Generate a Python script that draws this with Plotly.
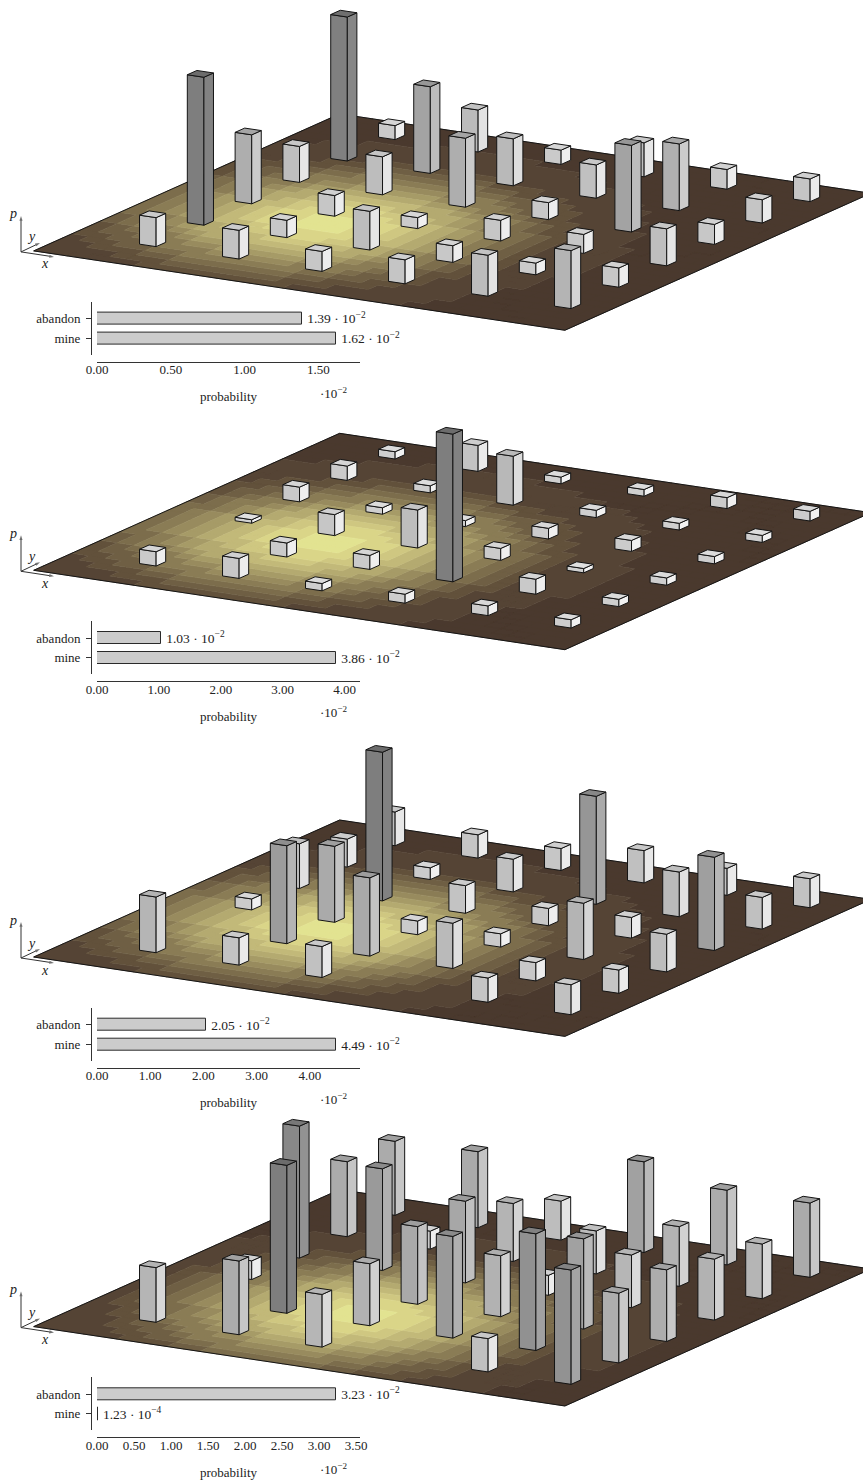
import plotly.graph_objects as go

W, H = 863, 1482
FONT = "Liberation Serif"
INK = "#222222"

# ---------- data ----------
ACTIONS = ["abandon", "mine"]
PROB_1 = [1.39, 1.62]
PROB_2 = [1.03, 3.86]
PROB_3 = [2.05, 4.49]
PROB_4 = [3.23, 0.0123]
LABELS_1 = ["1.39 · 10<sup>−2</sup>", "1.62 · 10<sup>−2</sup>"]
LABELS_2 = ["1.03 · 10<sup>−2</sup>", "3.86 · 10<sup>−2</sup>"]
LABELS_3 = ["2.05 · 10<sup>−2</sup>", "4.49 · 10<sup>−2</sup>"]
LABELS_4 = ["3.23 · 10<sup>−2</sup>", "1.23 · 10<sup>−4</sup>"]
TICKS_1 = [0, 0.5, 1.0, 1.5]
TICKS_2 = [0, 1, 2, 3, 4]
TICKS_3 = [0, 1, 2, 3, 4]
TICKS_4 = [0, 0.5, 1.0, 1.5, 2.0, 2.5, 3.0, 3.5]
XMAX_1, XMAX_2, XMAX_3, XMAX_4 = 1.783, 4.25, 4.94, 3.554

# column heights at grid cell [x][y]; None = no column
HEIGHTS_1 = [
    [29, 148, 69, 36, 144, 14],
    [28.7, 17.3, 20.7, 38, 86.7, 42],
    [20, 38.7, 11, 69, 47, 14.3],
    [24, 16.7, 20.7, 17, 33.3, 34],
    [41, 11.7, 19, 86.7, 66.7, 19.7],
    [58, 19.3, 37, 20, 23.3, 22.7],
]
HEIGHTS_2 = [
    [14.3, None, 3.5, 14.7, 14.3, 7.3],
    [20, 14, 21, 6.5, 7, 26],
    [7.3, 14, 38, 6, 49, 6.7],
    [9, 147.7, 12, 10.7, 7.3, 6.7],
    [9.7, 15, 4.3, 11, 6.7, 11],
    [8.3, 7.3, 7.3, 7.3, 7, 9.7],
]
HEIGHTS_3 = [
    [55.7, None, 11, 44.7, 28, 33.7],
    [27.3, 98, 76, 148.7, 11.7, 23.3],
    [31, 78.3, 13.7, 27.7, 32.7, 22],
    [None, 45.3, 13.3, 17.3, 108, 32.3],
    [24.3, 18.3, 56.3, 20.7, 44.7, 27],
    [30, 23.3, 37.7, 93.3, 31.7, 29],
]
HEIGHTS_4 = [
    [54.7, None, 18.7, 132, 75, 74],
    [73.7, 148, None, 101.7, 18, 76],
    [52.7, 62, 77.7, 81.7, 58, 39],
    [None, 101.7, 61, 20, 43, 90.7],
    [33.3, 116.7, 90.3, 52.7, 59.7, 74.7],
    [114.3, 69.7, 71.7, 61, 54.7, 74.3],
]

# floor shading level per floor cell (rows along x, characters along y), read by eye
FLOOR_A = [
    "11112223344444443322211111000000",
    "11122334445555544433221111000000",
    "11223345556666655543322111100000",
    "11233455667777766554332111100000",
    "12234556778888877655432211110000",
    "12345567889999988765543211110000",
    "22345678899aaa998876543221110000",
    "234556789aabbbaa9876554321111000",
    "234567899abbbbba9987654321111000",
    "23456789abbcccbba987654321111000",
    "23456789abbcccbba987654321111000",
    "23456789abbcccbba987654321111000",
    "234567899abbbbba9987654321111000",
    "234556789aabbbaa9876554321111000",
    "22345678899aaa998876543221110000",
    "12345567889999988765543211110000",
    "12234556778888877655432211110000",
    "11233455667777766554332111100000",
    "11223345556666655543322111100000",
    "11122334445555544433221111000000",
    "11112223344444443322211111000000",
    "11111122233333332221111110000000",
    "01111111222222222111111100000000",
    "00111111111111111111111000000000",
    "00001111111111111111100000000000",
    "00000011111111111110000000000000",
    "00000000011111110000000000000000",
    "00000000000000000000000000000000",
    "00000000000000000000000000000000",
    "00000000000000000000000000000000",
    "00000000000000000000000000000000",
    "00000000000000000000000000000000",
]
FLOOR_B = [
    "11111111111111111111100000000000",
    "11111122222222211111110000000000",
    "11112223333333222111111000000000",
    "11222334444444332221111100000000",
    "12233444555554443322111100000000",
    "22334555666665554332211110000000",
    "23345566777776655433211110000000",
    "23455677888887765543221111000000",
    "34556788999998876554321111000000",
    "345678899aaa99887654322111000000",
    "4556789aabbbaa987655432111100000",
    "4567899abbbbba998765432111100000",
    "456789abbcccbba98765432111100000",
    "456789abbcccbba98765432111100000",
    "456789abbcccbba98765432111100000",
    "4567899abbbbba998765432111100000",
    "4556789aabbbaa987655432111100000",
    "345678899aaa99887654322111000000",
    "34556788999998876554321111000000",
    "23455677888887765543221111000000",
    "23345566777776655433211110000000",
    "22334555666665554332211110000000",
    "12233444555554443322111100000000",
    "11222334444444332221111100000000",
    "11112223333333222111111000000000",
    "11111122222222211111110000000000",
    "11111111111111111111100000000000",
    "00111111111111111110000000000000",
    "00001111111111111000000000000000",
    "00000001111111000000000000000000",
    "00000000000000000000000000000000",
    "00000000000000000000000000000000",
]

# ---------- style and projection constants ----------
FLOOR_COLORS = ["#4a392e", "#554435", "#62513b", "#6f5f44", "#7c6d4c", "#8a7c55", "#988b5e",
                "#a69b67", "#b4aa70", "#c2b979", "#cfc781", "#dad588", "#e2e391"]
SHADE_STOPS = [0, 10, 40, 70, 100, 148]
SHADE_LEFT = [0xd4, 0xcc, 0xbc, 0xae, 0x9b, 0x7e]
SHADE_RIGHT = [0xf6, 0xf0, 0xe4, 0xc9, 0xb2, 0x82]
SHADE_TOP = [0xe4, 0xd8, 0xc4, 0xa4, 0x8c, 0x6c]

CORNER_X = 33.7
CORNER_PX_Y = [250.9, 570.3, 957.0, 1326.6]      # floor's left corner per panel, from page top
UX, UY = 83.0, -12.4                              # one grid step along x (screen, y up)
VX, VY = 47.8, 21.4                               # one grid step along y
FLOOR_SIZE = 6.4
CELL = FLOOR_SIZE / 32
FRONT_U, FRONT_V = 1.02, 0.79                     # nearest column vertex offset
SIDE = 0.2
Y_LOW, Y_HIGH = -85, 250

def proj(u, v, h=0.0):
    return CORNER_X + UX * u + VX * v, UY * u + VY * v + h

def shade(h, table):
    for k in range(len(SHADE_STOPS) - 1):
        a, b = SHADE_STOPS[k], SHADE_STOPS[k + 1]
        if h <= b:
            g = round(table[k] + (table[k + 1] - table[k]) * (h - a) / (b - a))
            break
    else:
        g = table[-1]
    return f"rgb({g},{g},{g})"

def poly(pts, xa, ya, fill, line="#141414", lw=1.0):
    xs = [p[0] for p in pts] + [pts[0][0]]
    ys = [p[1] for p in pts] + [pts[0][1]]
    return go.Scatter(x=xs, y=ys, xaxis=xa, yaxis=ya, mode="lines", fill="toself",
                      fillcolor=fill, line=dict(color=line, width=lw),
                      hoverinfo="skip", showlegend=False)

fig = go.Figure()
layout = dict(width=W, height=H, margin=dict(l=0, r=0, t=0, b=0, autoexpand=False), paper_bgcolor="white",
              plot_bgcolor="rgba(0,0,0,0)", showlegend=False, bargap=0)
annotations = []

PANELS = [
    (HEIGHTS_1, FLOOR_A, PROB_1, LABELS_1, TICKS_1, XMAX_1),
    (HEIGHTS_2, FLOOR_A, PROB_2, LABELS_2, TICKS_2, XMAX_2),
    (HEIGHTS_3, FLOOR_A, PROB_3, LABELS_3, TICKS_3, XMAX_3),
    (HEIGHTS_4, FLOOR_B, PROB_4, LABELS_4, TICKS_4, XMAX_4),
]

for k, (heights, floor, probs, labels, ticks, xmax) in enumerate(PANELS):
    n = k + 1
    c = CORNER_PX_Y[k]
    xa, ya = ("x" if n == 1 else f"x{n}"), ("y" if n == 1 else f"y{n}")
    xk, yk = ("xaxis" if n == 1 else f"xaxis{n}"), ("yaxis" if n == 1 else f"yaxis{n}")
    layout[xk] = dict(domain=[0, 1], range=[0, W], visible=False, anchor=ya, fixedrange=True)
    top, bot = c - Y_HIGH, c - Y_LOW
    layout[yk] = dict(domain=[max(0, 1 - bot / H), min(1, 1 - top / H)], range=[Y_LOW, Y_HIGH],
                      visible=False, anchor=xa, fixedrange=True)

    # floor cells grouped by level
    for level, color in enumerate(FLOOR_COLORS):
        xs, ys = [], []
        ch = "0123456789abc"[level]
        for a, row in enumerate(floor):
            for b, val in enumerate(row):
                if val == ch:
                    for du, dv in ((0, 0), (1, 0), (1, 1), (0, 1), (0, 0)):
                        px, py = proj((a + du) * CELL, (b + dv) * CELL)
                        xs.append(px)
                        ys.append(py)
                    xs.append(None)
                    ys.append(None)
        if xs:
            fig.add_trace(go.Scatter(x=xs, y=ys, xaxis=xa, yaxis=ya, mode="lines", fill="toself",
                                     fillcolor=color, line=dict(color=color, width=0.6),
                                     hoverinfo="skip", showlegend=False))
    S = FLOOR_SIZE
    corners = [proj(0, 0), proj(S, 0), proj(S, S), proj(0, S), proj(0, 0)]
    fig.add_trace(go.Scatter(x=[p[0] for p in corners], y=[p[1] for p in corners], xaxis=xa, yaxis=ya,
                             mode="lines", line=dict(color="#141414", width=1),
                             hoverinfo="skip", showlegend=False))

    # columns, far to near
    for j in range(5, -1, -1):
        for i in range(6):
            h = heights[i][j]
            if h is None:
                continue
            u, v = i + FRONT_U, j + FRONT_V
            f0, f1 = proj(u, v), proj(u, v, h)
            l0, l1 = proj(u - SIDE, v), proj(u - SIDE, v, h)
            r0, r1 = proj(u, v + SIDE), proj(u, v + SIDE, h)
            b1 = proj(u - SIDE, v + SIDE, h)
            fig.add_trace(poly([l0, f0, f1, l1], xa, ya, shade(h, SHADE_LEFT)))
            fig.add_trace(poly([f0, r0, r1, f1], xa, ya, shade(h, SHADE_RIGHT)))
            fig.add_trace(poly([l1, f1, r1, b1], xa, ya, shade(h, SHADE_TOP)))

    # axis triad
    ox, oy = 21.0, -1.0
    for dx, dy in ((0, 36), (33, -5), (19, 9)):
        fig.add_trace(go.Scatter(x=[ox, ox + dx], y=[oy, oy + dy], xaxis=xa, yaxis=ya, mode="lines+markers",
                                 line=dict(color="#333333", width=1),
                                 marker=dict(symbol="arrow", size=[0, 5], angleref="previous",
                                             color="#333333", line=dict(width=0)),
                                 hoverinfo="skip", showlegend=False, cliponaxis=False))
    for txt, tx, ty in (("p", 12.5, 37), ("y", 31, 14), ("x", 45, -13)):
        annotations.append(dict(x=tx, y=ty, xref=xa, yref=ya, text=f"<i>{txt}</i>", showarrow=False,
                                xanchor="center", yanchor="middle",
                                font=dict(family=FONT, size=14, color=INK)))

    # probability bars
    bx, by = f"x{n + 4}", f"y{n + 4}"
    bxk, byk = f"xaxis{n + 4}", f"yaxis{n + 4}"
    axis_y = c + 110.7
    line_widths = [1.6 if p < 0.05 else 1 for p in probs]
    fig.add_trace(go.Bar(y=ACTIONS, x=probs, orientation="h", xaxis=bx, yaxis=by, width=0.62,
                         marker=dict(color="#cccccc", line=dict(color="#2a2a2a", width=line_widths)),
                         text=["&#8201;" + t for t in labels], textposition="outside", cliponaxis=False,
                         constraintext="none",
                         textfont=dict(family=FONT, size=13.5, color=INK),
                         hoverinfo="skip", showlegend=False))
    layout[bxk] = dict(domain=[97 / W, 360 / W], range=[0, xmax], anchor="free",
                       position=1 - axis_y / H,
                       tickmode="array", tickvals=ticks, ticktext=[f"{t:.2f}" for t in ticks],
                       ticks="", ticklabelstandoff=-4, showgrid=False, zeroline=False, showline=True,
                       linecolor="#333333", linewidth=1,
                       tickfont=dict(family=FONT, size=13, color=INK), fixedrange=True)
    layout[byk] = dict(domain=[1 - (c + 103.7) / H, 1 - (c + 50.7) / H], range=[1.845, -0.881],
                       anchor="free", position=91 / W, type="category",
                       categoryorder="array", categoryarray=ACTIONS,
                       ticks="outside", ticklen=5, tickwidth=1, tickcolor="#333333", ticklabelstandoff=3,
                       showgrid=False, zeroline=False, showline=True, linecolor="#333333", linewidth=1,
                       tickfont=dict(family=FONT, size=13, color=INK), fixedrange=True)
    annotations.append(dict(x=0.5, xref=f"{bx} domain", y=1 - (c + 145.7) / H, yref="paper",
                            text="probability", showarrow=False, xanchor="center", yanchor="middle",
                            font=dict(family=FONT, size=13, color=INK)))
    annotations.append(dict(x=333 / W, xref="paper", y=1 - (c + 142.0) / H, yref="paper",
                            text="·10<sup>−2</sup>", showarrow=False, xanchor="center", yanchor="middle",
                            font=dict(family=FONT, size=13, color=INK)))

layout["annotations"] = annotations
fig.update_layout(**layout)
fig.write_html("out.html", config={"displayModeBar": False},
               post_script="document.body.style.margin='0';")
